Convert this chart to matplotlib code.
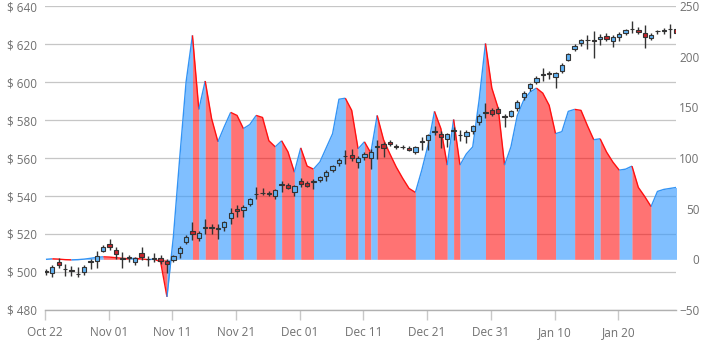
import numpy as np
import pandas as pd
import matplotlib
matplotlib.use("Agg")
import matplotlib.pyplot as plt
import matplotlib.dates as mdates
from matplotlib.ticker import FuncFormatter, FixedLocator

plt.rcParams['font.family'] = ['Open Sans', 'DejaVu Sans']

# ---------------- data ----------------
dates = pd.date_range('2012-10-22 03:36', periods=100, freq='D')

opens = [500.3, 499.6, 505.3, 501.5, 501.3, 499.2, 499.8, 505.0, 506.0, 511.2,
         514.6, 511.6, 507.3, 507.4, 505.5, 509.8, 507.0, 507.0, 507.5, 505.8,
         506.5, 510.0, 515.6, 521.6, 517.7, 523.3, 523.6, 522.8, 523.5, 528.6,
         533.2, 532.5, 535.6, 540.8, 541.5, 541.6, 540.2, 546.0, 545.8, 542.3,
         547.9, 547.0, 547.5, 548.4, 550.7, 553.7, 557.2, 560.8, 561.6, 558.1,
         560.7, 560.2, 565.8, 567.2, 568.6, 566.2, 566.0, 565.5, 563.0, 568.4,
         569.5, 574.0, 572.6, 569.8, 574.2, 572.0, 571.4, 574.4, 579.1, 584.2,
         585.3, 586.0, 582.0, 582.3, 586.5, 592.0, 596.6, 600.2, 603.8, 604.6,
         602.5, 606.0, 611.8, 617.4, 620.4, 622.0, 621.8, 622.5, 624.2, 621.8,
         623.5, 625.6, 627.7, 627.4, 625.6, 623.0, 626.6, 626.8, 627.7, 627.8]
highs = [501.5, 503.5, 507.5, 504.0, 503.0, 502.5, 503.5, 507.0, 511.0, 514.0,
         517.5, 513.0, 510.5, 509.0, 508.0, 513.0, 508.5, 510.0, 509.0, 507.0,
         509.0, 513.5, 519.5, 526.5, 521.5, 528.0, 525.0, 525.5, 527.0, 533.5,
         535.0, 535.5, 539.0, 545.0, 544.0, 542.5, 543.5, 548.0, 547.0, 546.0,
         549.5, 548.0, 549.0, 550.5, 553.5, 556.5, 560.0, 564.0, 565.0, 561.0,
         563.0, 564.5, 569.5, 568.5, 569.5, 567.5, 567.0, 566.5, 566.5, 571.0,
         572.5, 577.0, 574.0, 573.0, 576.5, 574.5, 574.5, 577.5, 583.0, 589.0,
         586.5, 587.0, 583.0, 585.5, 590.5, 595.5, 599.5, 603.0, 607.5, 606.0,
         605.5, 610.0, 615.5, 619.8, 622.5, 625.0, 627.0, 625.5, 626.0, 624.5,
         626.5, 628.0, 632.0, 629.0, 630.0, 626.0, 627.5, 628.5, 630.5, 629.0]
lows = [498.5, 497.5, 502.0, 498.0, 498.0, 497.5, 498.5, 501.5, 502.0, 510.5,
        511.5, 507.0, 502.0, 505.0, 503.5, 506.5, 503.0, 505.0, 504.0, 499.5,
        505.5, 507.5, 514.5, 517.0, 516.5, 519.8, 520.0, 517.5, 521.5, 525.5,
        529.0, 529.0, 534.5, 538.3, 540.5, 540.0, 538.5, 542.0, 543.5, 540.0,
        545.0, 544.5, 543.5, 547.5, 548.0, 552.5, 556.0, 557.0, 558.5, 554.5,
        559.0, 554.0, 559.5, 560.5, 566.5, 564.5, 564.5, 563.5, 562.0, 564.0,
        564.0, 572.0, 565.5, 566.0, 569.5, 569.0, 568.0, 572.5, 577.5, 581.0,
        582.0, 583.0, 576.5, 581.5, 585.0, 590.5, 595.5, 599.0, 600.5, 601.5,
        597.0, 605.0, 611.0, 616.5, 619.0, 617.5, 612.5, 619.5, 621.5, 618.5,
        621.5, 624.5, 626.0, 625.5, 618.0, 622.0, 625.5, 625.5, 623.0, 624.5]
closes = [500.0, 502.5, 503.7, 501.8, 500.3, 498.8, 502.8, 505.6, 508.4, 513.0,
          513.0, 509.5, 507.1, 507.6, 507.5, 507.8, 506.7, 507.2, 505.6, 504.2,
          508.5, 512.8, 518.6, 519.8, 520.7, 523.6, 523.0, 523.2, 526.1, 530.9,
          532.3, 534.0, 538.3, 541.2, 541.8, 541.0, 543.0, 546.3, 544.1, 545.3,
          546.5, 545.5, 548.0, 549.8, 552.6, 555.8, 558.9, 561.2, 559.8, 560.2,
          562.0, 563.3, 566.2, 565.1, 567.2, 566.0, 565.8, 564.3, 565.6, 568.7,
          572.0, 573.6, 571.0, 572.5, 574.6, 572.3, 573.5, 576.8, 582.0, 583.6,
          583.2, 583.8, 581.8, 584.7, 589.3, 594.4, 598.8, 602.0, 604.1, 604.2,
          604.6, 608.9, 614.6, 619.1, 621.9, 622.3, 621.6, 623.8, 622.8, 623.5,
          625.3, 627.4, 628.0, 626.2, 623.9, 624.9, 626.9, 627.5, 628.0, 625.6]

indicator = [0.0, 0.5, 0.2, -0.3, -0.5, -0.3, 0.2, 1.0, 2.0, 2.5,
             2.2, 1.6, 1.0, 0.6, 1.0, 0.4, -0.3, 0.2, -2.5, -37.0,
             22.0, 100.0, 175.0, 221.0, 148.0, 176.0, 139.0, 116.0, 131.0, 145.0,
             142.0, 129.0, 133.0, 142.0, 140.0, 117.0, 111.0, 117.0, 106.0, 86.0,
             110.0, 92.0, 89.0, 96.0, 110.0, 124.0, 158.0, 159.0, 147.0, 109.0,
             116.0, 105.0, 142.0, 118.0, 104.0, 91.0, 80.0, 70.0, 66.0, 88.0,
             113.0, 146.0, 129.0, 93.0, 138.0, 93.0, 104.0, 111.0, 157.0, 213.0,
             169.0, 149.0, 93.0, 111.0, 142.0, 157.0, 165.0, 169.0, 164.0, 152.0,
             124.0, 126.0, 146.0, 148.0, 147.0, 132.0, 118.0, 119.0, 106.0, 96.0,
             88.0, 89.0, 92.0, 71.0, 62.0, 52.0, 67.0, 69.0, 70.0, 71.0]

tick_dates = pd.date_range('2012-10-22', periods=10, freq='10D')
x_start = pd.Timestamp('2012-10-22')
x_end = pd.Timestamp('2013-01-29 01:30')
price_ticks = [480, 500, 520, 540, 560, 580, 600, 620, 640]
ind_ticks = [-50, 0, 50, 100, 150, 200, 250]

# ---------------- figure ----------------
fig = plt.figure(figsize=(7.18, 3.5), dpi=100)
rect = [45 / 718, 40 / 350, 631 / 718, 304 / 350]
axg = fig.add_axes(rect)                       # grid, price labels, x axis
axa = fig.add_axes(rect, sharex=axg)           # indicator area
axc = fig.add_axes(rect, sharex=axg, sharey=axg)  # candles
for a in (axa, axc):
    a.patch.set_visible(False)

x = mdates.date2num(dates)
o = np.array(opens); h = np.array(highs); l = np.array(lows); c = np.array(closes)
v = np.array(indicator)

label_color = '#707070'
fs = 8.5

# grid axis
axg.set_ylim(price_ticks[0], price_ticks[-1])
axg.yaxis.set_major_locator(FixedLocator(price_ticks))
axg.yaxis.set_major_formatter(FuncFormatter(lambda val, pos: f"$ {val:.0f}"))
axg.yaxis.grid(True, color='#c6c6c6', lw=0.9)
axg.set_axisbelow(True)
for s in ('top', 'right', 'left'):
    axg.spines[s].set_visible(False)
axg.spines['bottom'].set_color('#b0b0b0')
axg.spines['bottom'].set_linewidth(1.0)
axg.tick_params(axis='y', length=0, pad=5.5, labelsize=fs, labelcolor=label_color)
axg.tick_params(axis='x', length=7.5, width=1, color='#c8c8c8', pad=4,
                labelsize=fs, labelcolor=label_color)
axg.xaxis.set_major_locator(FixedLocator(mdates.date2num(tick_dates)))
axg.xaxis.set_major_formatter(mdates.DateFormatter('%b %d'))
axg.set_xlim(mdates.date2num(x_start), mdates.date2num(x_end))

# indicator area axis
axa.set_ylim(ind_ticks[0], ind_ticks[-1])
axa.yaxis.set_major_locator(FixedLocator(ind_ticks))
axa.yaxis.tick_right()
axa.tick_params(axis='y', length=0, pad=17, labelsize=fs, labelcolor=label_color)
for lbl in axa.get_yticklabels():
    lbl.set_horizontalalignment('right')
axa.tick_params(axis='x', bottom=False, labelbottom=False)
for s in axa.spines.values():
    s.set_visible(False)

# group consecutive segments of the same direction into runs
rising = v[1:] >= v[:-1]
runs = []
start = 0
for i in range(1, len(rising)):
    if rising[i] != rising[start]:
        runs.append((start, i, rising[start]))
        start = i
runs.append((start, len(rising), rising[start]))

for s0, s1, up in runs:
    fc = (0.2, 0.6, 1.0) if up else (1.0, 0.0, 0.0)
    al = 0.62 if up else 0.55
    lc = '#3394f5' if up else '#ff1010'
    xs = x[s0:s1 + 1]
    vs = v[s0:s1 + 1]
    axa.fill_between(xs, vs, 0, color=fc, alpha=al, lw=0, antialiased=False)
    axa.plot(xs, vs, color=lc, lw=1.0, solid_capstyle='butt')

# candles
axc.axis('off')
up_c = c >= o
axc.vlines(x, l, h, color='#333333', lw=1.0, zorder=2)
body_bottom = np.minimum(o, c)
body_h = np.maximum(np.abs(c - o), 0.25)
fill_cols = np.where(up_c, '#62b2f3', '#c8252b')
axc.bar(x, body_h, bottom=body_bottom, width=0.68, color=fill_cols,
        edgecolor='#333333', linewidth=0.8, zorder=3)

fig.savefig('out.png', dpi=100)
